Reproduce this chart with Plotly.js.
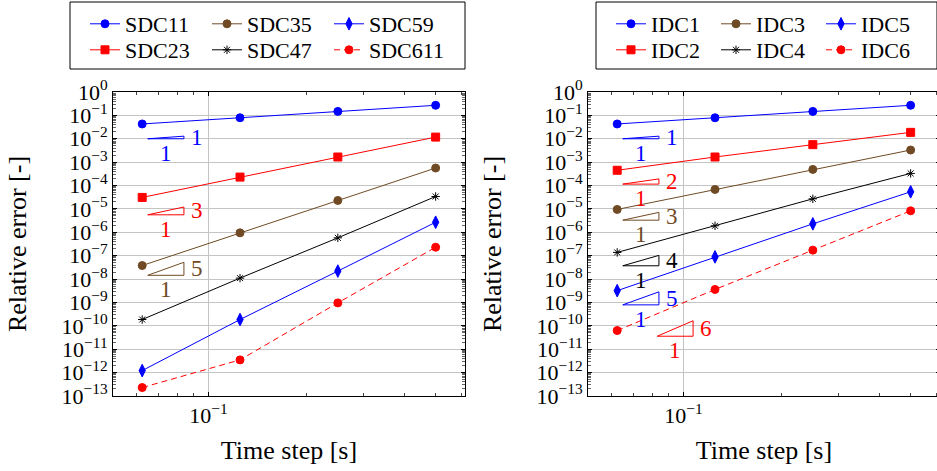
<!DOCTYPE html>
<html><head><meta charset="utf-8">
<script src="https://cdn.plot.ly/plotly-3.0.1.min.js"></script>
<style>html,body{margin:0;padding:0;overflow:hidden;background:#fff}</style>
</head><body><div id="chart"></div>
<script>
// ---------- data ----------
const timeStep = [0.0625, 0.125, 0.25, 0.5];

const SDC11  = [0.043, 0.079, 0.148, 0.27];
const SDC23  = [3.1e-5, 2.3e-4, 1.66e-3, 0.0118];
const SDC35  = [3.8e-8, 9.5e-7, 2.3e-5, 5.6e-4];
const SDC47  = [1.86e-10, 1.1e-8, 5.8e-7, 3.4e-5];
const SDC59  = [1.22e-12, 1.86e-10, 2.2e-8, 2.7e-6];
const SDC611 = [2.3e-13, 3.5e-12, 9.6e-10, 2.3e-7];

const IDC1 = [0.043, 0.079, 0.148, 0.27];
const IDC2 = [4.5e-4, 1.66e-3, 5.6e-3, 0.0188];
const IDC3 = [9.5e-6, 6.8e-5, 4.9e-4, 3.3e-3];
const IDC4 = [1.38e-7, 1.9e-6, 2.7e-5, 3.3e-4];
const IDC5 = [3.2e-9, 8.9e-8, 2.3e-6, 5.4e-5];
const IDC6 = [6.3e-11, 3.6e-9, 1.73e-7, 8.3e-6];

// slope triangles (base left x, base right x, base y, order)
const sdcTriX0 = [0.065, 0.065, 0.065];
const sdcTriX1 = [0.084, 0.084, 0.084];
const sdcTriBase = [1e-2, 5.6e-6, 1.45e-8];
const sdcTriOrder = [1, 3, 5];

const idcTriX0 = [0.065, 0.065, 0.065, 0.065, 0.065, 0.083];
const idcTriX1 = [0.084, 0.084, 0.084, 0.084, 0.084, 0.107];
const idcTriBase = [1e-2, 1.15e-4, 3.3e-6, 3.7e-8, 7.9e-10, 3.6e-11];
const idcTriOrder = [1, 2, 3, 4, 5, 6];

const yExponents = [-13,-12,-11,-10,-9,-8,-7,-6,-5,-4,-3,-2,-1,0];
const xExponents = [-1];

// ---------- styles ----------
const BLUE = '#0000ff', RED = '#ff0000', BROWN = '#704a25', BLACK = '#000000';
const FONT = '"Liberation Serif", "Times New Roman", "DejaVu Serif", serif';
const W = 941, H = 471;
const fx = v => v / W, fy = v => 1 - v / H;

const styles = {
  blueCircle:  {color: BLUE,  symbol: 'circle',        size: 8, dash: 'solid'},
  redSquare:   {color: RED,   symbol: 'square',        size: 8, dash: 'solid'},
  brownCircle: {color: BROWN, symbol: 'circle',        size: 8, dash: 'solid'},
  blackStar:   {color: BLACK, symbol: 'asterisk-open', size: 7, dash: 'solid'},
  blueDiamond: {color: BLUE,  symbol: 'diamond-tall',  size: 9, dash: 'solid'},
  redDashed:   {color: RED,   symbol: 'circle',        size: 8, dash: '6px,4px'}
};

function series(name, y, st, xa, ya, legend) {
  return {
    type: 'scatter', mode: 'lines+markers', name: name,
    x: timeStep, y: y, xaxis: xa, yaxis: ya, legend: legend,
    line: {color: st.color, width: 1, dash: st.dash},
    marker: {color: st.color, symbol: st.symbol, size: st.size,
             line: {color: st.color, width: 1}}
  };
}

const traces = [
  series('SDC11', SDC11, styles.blueCircle, 'x', 'y', 'legend'),
  series('SDC35', SDC35, styles.brownCircle, 'x', 'y', 'legend'),
  series('SDC59', SDC59, styles.blueDiamond, 'x', 'y', 'legend'),
  series('SDC23', SDC23, styles.redSquare, 'x', 'y', 'legend2'),
  series('SDC47', SDC47, styles.blackStar, 'x', 'y', 'legend2'),
  series('SDC611', SDC611, styles.redDashed, 'x', 'y', 'legend2'),
  series('IDC1', IDC1, styles.blueCircle, 'x2', 'y2', 'legend3'),
  series('IDC3', IDC3, styles.brownCircle, 'x2', 'y2', 'legend3'),
  series('IDC5', IDC5, styles.blueDiamond, 'x2', 'y2', 'legend3'),
  series('IDC2', IDC2, styles.redSquare, 'x2', 'y2', 'legend4'),
  series('IDC4', IDC4, styles.blackStar, 'x2', 'y2', 'legend4'),
  series('IDC6', IDC6, styles.redDashed, 'x2', 'y2', 'legend4')
];

const annotations = [];
function addTriangles(x0s, x1s, bases, orders, colors, xa, ya) {
  for (let i = 0; i < x0s.length; i++) {
    const x0 = x0s[i], x1 = x1s[i], b = bases[i], p = orders[i];
    const top = b * Math.pow(x1 / x0, p);
    traces.push({
      type: 'scatter', mode: 'lines', showlegend: false, hoverinfo: 'skip',
      x: [x0, x1, x1, x0], y: [b, b, top, b], xaxis: xa, yaxis: ya,
      line: {color: colors[i], width: 1}
    });
    annotations.push({
      xref: xa, yref: ya, x: Math.log10(x1), y: (Math.log10(b) + Math.log10(top)) / 2,
      text: String(p), showarrow: false, xanchor: 'left', yanchor: 'middle', xshift: 5,
      font: {family: FONT, size: 23, color: colors[i]}
    });
    annotations.push({
      xref: xa, yref: ya, x: (Math.log10(x0) + Math.log10(x1)) / 2, y: Math.log10(b),
      text: '1', showarrow: false, xanchor: 'center', yanchor: 'top', yshift: 0,
      font: {family: FONT, size: 23, color: colors[i]}
    });
  }
}
addTriangles(sdcTriX0, sdcTriX1, sdcTriBase, sdcTriOrder, [BLUE, RED, BROWN], 'x', 'y');
addTriangles(idcTriX0, idcTriX1, idcTriBase, idcTriOrder, [BLUE, RED, BROWN, BLACK, BLUE, RED], 'x2', 'y2');

const expText = e => '10<sup>' + (e < 0 ? '\u2212' + (-e) : e) + '</sup>';

const tickFont = {family: FONT, size: 22, color: '#000'};
const titleFont = {family: FONT, size: 26, color: '#000'};

function xAxis(domain, anchor) {
  return {
    type: 'log', domain: domain, anchor: anchor, range: [-1.294, -0.2107],
    tickmode: 'array', tickvals: xExponents.map(e => Math.pow(10, e)), ticktext: xExponents.map(expText),
    showline: true, linecolor: '#000', linewidth: 1, mirror: 'allticks',
    ticks: 'inside', ticklen: 4, tickcolor: '#000', tickwidth: 1,
    showgrid: true, gridcolor: '#c4c4c4', gridwidth: 1, zeroline: false,
    minor: {tickmode: 'linear', dtick: 'D1', ticks: 'inside', ticklen: 3, tickcolor: '#444', showgrid: false},
    tickfont: tickFont,
    title: {text: 'Time step [s]', font: titleFont, standoff: 13}
  };
}
function yAxis(domain, anchor) {
  return {
    type: 'log', domain: domain, anchor: anchor, range: [-13, 0],
    tickmode: 'array', tickvals: yExponents.map(e => Math.pow(10, e)), ticktext: yExponents.map(expText),
    showline: true, linecolor: '#000', linewidth: 1, mirror: 'allticks',
    ticks: 'inside', ticklen: 4, tickcolor: '#000', tickwidth: 1,
    showgrid: true, gridcolor: '#c4c4c4', gridwidth: 1, zeroline: false,
    minor: {tickmode: 'linear', dtick: 'D1', ticks: 'inside', ticklen: 3, tickcolor: '#666', showgrid: false},
    tickfont: tickFont,
    title: {text: 'Relative error [-]', font: titleFont, standoff: 27}
  };
}

function legendCfg(xPx, yPx, ew) {
  return {
    orientation: 'h', x: fx(xPx), y: fy(yPx), xanchor: 'left', yanchor: 'middle',
    bgcolor: 'rgba(0,0,0,0)', borderwidth: 0, entrywidth: ew, entrywidthmode: 'pixels',
    font: {family: FONT, size: 22, color: '#000'}, tracegroupgap: 0
  };
}

const yDom = [fy(396), fy(92)];
const layout = {
  width: W, height: H,
  margin: {l: 0, r: 0, t: 0, b: 0},
  paper_bgcolor: '#fff', plot_bgcolor: '#fff',
  showlegend: true,
  xaxis: xAxis([fx(113), fx(465)], 'y'),
  yaxis: yAxis(yDom, 'x'),
  xaxis2: xAxis([fx(588), fx(940)], 'y2'),
  yaxis2: yAxis(yDom, 'x2'),
  legend: legendCfg(85, 24, 77),
  legend2: legendCfg(85, 50, 77),
  legend3: legendCfg(611, 24, 60),
  legend4: legendCfg(611, 50, 60),
  shapes: [
    {type: 'rect', xref: 'paper', yref: 'paper', x0: fx(70), x1: fx(465), y0: fy(69), y1: fy(2), line: {color: '#000', width: 1}},
    {type: 'rect', xref: 'paper', yref: 'paper', x0: fx(596), x1: fx(937), y0: fy(69), y1: fy(2), line: {color: '#000', width: 1}}
  ],
  annotations: annotations
};

Plotly.newPlot('chart', traces, layout, {staticPlot: true, displayModeBar: false});
</script>
</body></html>
